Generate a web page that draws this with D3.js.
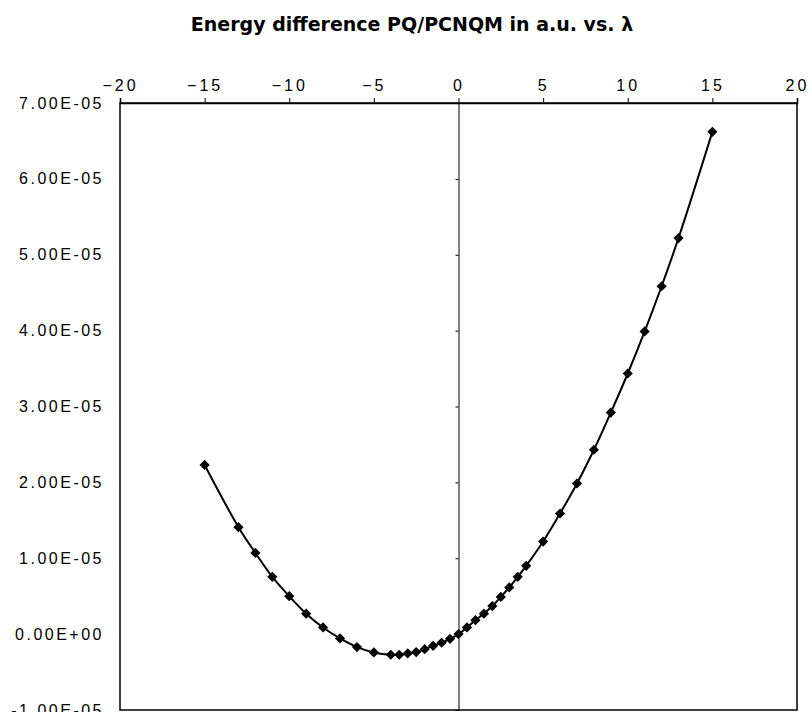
<!DOCTYPE html>
<html>
<head>
<meta charset="utf-8">
<script src="https://cdn.jsdelivr.net/npm/d3@7"></script>
<style>
  body { margin: 0; background: #fff; }
  .tickLbl { font-family: "Liberation Sans", Arial, sans-serif; font-size: 16px; letter-spacing: 3px; fill: #000; }
</style>
</head>
<body>
<div id="chart"></div>
<script>
// ========================================
// ===== Energy difference vs lambda ======
// ========================================

// lambda values (x) and energy difference in units of 1e-5 a.u. (y)
var lambdaVals = [-15, -13, -12, -11, -10, -9, -8, -7, -6, -5, -4, -3.5, -3, -2.5, -2, -1.5, -1, -0.5,
                  0, 0.5, 1, 1.5, 2, 2.5, 3, 3.5, 4, 5, 6, 7, 8, 9, 10, 11, 12, 13, 15];
var energyVals = [2.23, 1.41, 1.07, 0.755, 0.50, 0.27, 0.088, -0.057, -0.171, -0.241, -0.272, -0.272, -0.255, -0.237, -0.198, -0.154, -0.114, -0.062,
                  0, 0.088, 0.184, 0.27, 0.37, 0.49, 0.615, 0.755, 0.90, 1.22, 1.59, 1.985, 2.43, 2.92, 3.435, 3.99, 4.585, 5.22, 6.62];

var xTicks = [-20, -15, -10, -5, 0, 5, 10, 15, 20];
var yTicks = [-1, 0, 1, 2, 3, 4, 5, 6, 7];
var titleText = "Energy difference PQ/PCNQM in a.u. vs. \u03bb";

var data = lambdaVals.map(function(d, i) { return {x: d, y: energyVals[i] * 1e-5}; });

var width = 812, height = 712;
var margin = {top: 103, right: 15, bottom: 2, left: 120};
var w = width - margin.left - margin.right,
    h = height - margin.top - margin.bottom;

// Excel style exponent label, e.g. 7.00E-05
function sciFormat(v) {
    var parts = v.toExponential(2).split("e");
    var ex = +parts[1];
    var sign = ex < 0 ? "-" : "+";
    var ab = Math.abs(ex);
    return parts[0] + "E" + sign + (ab < 10 ? "0" : "") + ab;
}

var x = d3.scaleLinear().domain([-20, 20]).range([0, w]);
var y = d3.scaleLinear().domain([-1e-5, 7e-5]).range([h, 0]);

var svg = d3.select("#chart").append("svg")
    .attr("width", width)
    .attr("height", height)
  .append("g")
    .attr("transform", "translate(" + margin.left + "," + margin.top + ")");

// Title
svg.append("text")
    .attr("x", 412 - margin.left)
    .attr("y", 31 - margin.top)
    .attr("text-anchor", "middle")
    .attr("font-family", "'DejaVu Sans', sans-serif")
    .attr("font-weight", "bold")
    .attr("font-size", "19px")
    .text(titleText);

// Plot area border
svg.append("rect")
    .attr("x", 0).attr("y", 0)
    .attr("width", w).attr("height", h)
    .attr("fill", "none")
    .attr("stroke", "#000")
    .attr("stroke-width", 1.5);

// Top x axis
var xAxis = svg.append("g")
    .call(d3.axisTop(x).tickValues(xTicks).tickSize(5).tickPadding(7).tickFormat(d3.format("d")));
xAxis.select(".domain").attr("stroke-width", 1.5);
xAxis.selectAll("text").attr("class", "tickLbl").attr("font-size", null).attr("font-family", null);

// Vertical axis line at lambda = 0, labels stay on the left side
var yAxis = svg.append("g")
    .attr("transform", "translate(" + x(0) + ",0)")
    .call(d3.axisLeft(y).tickValues(yTicks.map(function(d) { return d * 1e-5; })).tickSize(3).tickFormat(""));
yAxis.select(".domain").attr("stroke-width", 1);

svg.append("g")
    .selectAll("text")
    .data(yTicks)
    .enter().append("text")
    .attr("class", "tickLbl")
    .attr("x", -16)
    .attr("y", function(d) { return y(d * 1e-5); })
    .attr("dy", "0.35em")
    .attr("text-anchor", "end")
    .style("letter-spacing", "2.5px")
    .text(function(d) { return sciFormat(d * 1e-5); });

// Smoothed line
var line = d3.line()
    .x(function(d) { return x(d.x); })
    .y(function(d) { return y(d.y); })
    .curve(d3.curveCatmullRom.alpha(0.5));

svg.append("path")
    .datum(data)
    .attr("fill", "none")
    .attr("stroke", "#000")
    .attr("stroke-width", 2)
    .attr("d", line);

// Diamond markers
svg.selectAll(".pt")
    .data(data)
    .enter().append("path")
    .attr("class", "pt")
    .attr("d", d3.symbol(d3.symbolSquare, 52))
    .attr("transform", function(d) { return "translate(" + x(d.x) + "," + y(d.y) + ") rotate(45)"; })
    .attr("fill", "#000");
</script>
</body>
</html>
